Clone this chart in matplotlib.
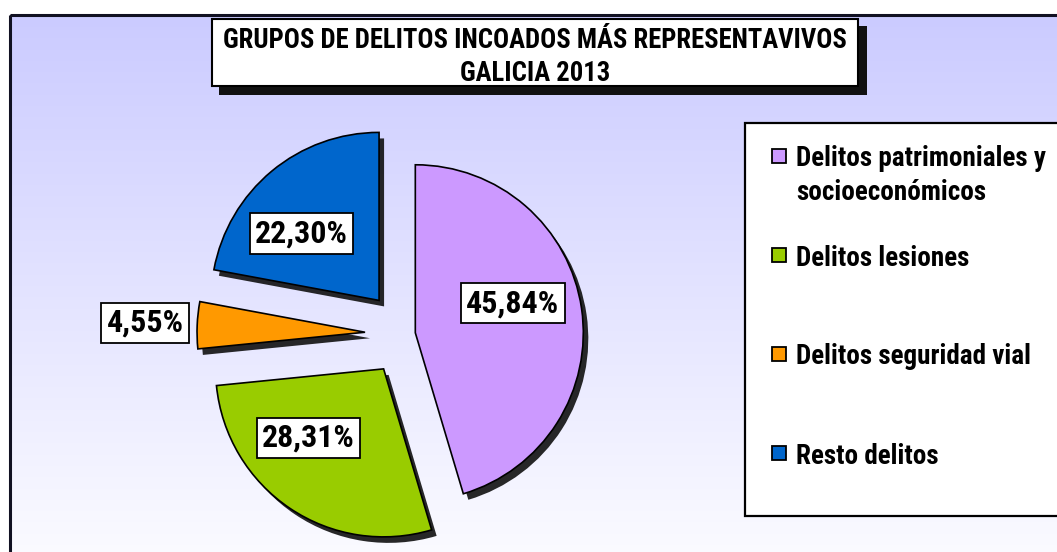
import numpy as np
import matplotlib
matplotlib.use('Agg')
import matplotlib.pyplot as plt
from matplotlib import font_manager
from matplotlib.patches import Rectangle

# Datos del gráfico
categorias = ['Delitos patrimoniales y\nsocioeconómicos', 'Delitos lesiones',
              'Delitos seguridad vial', 'Resto delitos']
valores = [45.84, 28.31, 4.55, 22.30]
etiquetas = ['45,84%', '28,31%', '4,55%', '22,30%']
colores = ['#CC99FF', '#99CC00', '#FF9900', '#0066CC']
titulo = 'GRUPOS DE DELITOS INCOADOS MÁS REPRESENTAVIVOS\nGALICIA 2013'

# Buscar una fuente estrecha (tipo Arial Narrow); si no hay, reducir tamaños
fuentes = font_manager.fontManager.ttflist
nombres = {f.name for f in fuentes}
estrecha = None
for cand in ['Liberation Sans Narrow', 'Arial Narrow', 'Roboto Condensed',
             'Open Sans Condensed', 'Noto Sans Condensed', 'DejaVu Sans Condensed']:
    if cand in nombres:
        estrecha = cand
        break
estirar = 'normal'
if estrecha is None and any(f.name == 'DejaVu Sans' and f.stretch == 'condensed' for f in fuentes):
    estrecha = 'DejaVu Sans'
    estirar = 'condensed'
if estrecha:
    plt.rcParams['font.family'] = [estrecha, 'DejaVu Sans']
    k = 1.0
else:
    plt.rcParams['font.family'] = ['Liberation Sans', 'DejaVu Sans']
    k = 0.82
plt.rcParams['font.stretch'] = estirar

W, H = 1057, 552
fig = plt.figure(figsize=(W / 100, H / 100), dpi=100)
ax = fig.add_axes([0, 0, 1, 1])

# Fondo degradado dentro del marco
grad = np.linspace(0, 1, 256)[:, None, None]
top = np.array([203, 203, 255]) / 255
bot = np.array([251, 251, 255]) / 255
img = top * (1 - grad) + bot * grad
ax.imshow(img, extent=(10, W + 5, H + 5, 15), origin='upper', aspect='auto', zorder=0)
ax.add_patch(Rectangle((10, 15), W, H, fill=False, ec='#111122', lw=2.2, zorder=1))

# Tarta (con sombra)
centro = (407, 334)
radio = 168
explode = [0.05 * radio, 0.25 * radio, 0.25 * radio, 0.26 * radio]
ax.pie(valores, center=(centro[0] + 5, centro[1] + 6), radius=radio, explode=explode,
       startangle=-90, counterclock=True, colors=['#151515'] * 4,
       wedgeprops={'linewidth': 0, 'zorder': 2, 'alpha': 0.92}, frame=True)
cunas, _ = ax.pie(valores, center=centro, radius=radio, explode=explode,
                  startangle=-90, counterclock=True, colors=colores,
                  wedgeprops={'linewidth': 1.2, 'edgecolor': 'black', 'zorder': 3}, frame=True)

# Etiquetas de porcentaje
dist_etq = [0.605, 0.607, 1.31, 0.61]
giro_etq = [-8.7, 13.5, 0.0, -9.5]
for w, txt, d, g in zip(cunas, etiquetas, dist_etq, giro_etq):
    a = np.deg2rad((w.theta1 + w.theta2) / 2 + g)
    x = w.center[0] + d * radio * np.cos(a)
    y = w.center[1] + d * radio * np.sin(a)
    ax.text(x, y, txt, ha='center', va='center', fontsize=23 * k, fontweight='bold', zorder=5,
            bbox=dict(boxstyle='square,pad=0.17', fc='white', ec='black', lw=1.3))

# Título con sombra
ax.add_patch(Rectangle((219, 26), 648, 69, fc='#111111', ec='none', zorder=4))
ax.add_patch(Rectangle((212, 19), 646, 67, fc='white', ec='black', lw=1.5, zorder=5))
ax.text(535, 57, titulo, ha='center', va='center', fontsize=19.2 * k, fontweight='bold',
        linespacing=1.28, zorder=6)

# Leyenda
ax.add_patch(Rectangle((745, 123), 330, 393, fc='white', ec='black', lw=1.6, zorder=5))
for i, (lab, col) in enumerate(zip(categorias, colores)):
    yc = 155.5 + i * 99
    ax.add_patch(Rectangle((772, yc - 7), 14, 14, fc=col, ec='black', lw=1.3, zorder=6))
    ax.text(796, yc - 10, lab, ha='left', va='top', fontsize=19.5 * k, fontweight='bold',
            linespacing=1.3, zorder=6)

ax.set_xlim(0, W)
ax.set_ylim(H, 0)
ax.set_axis_off()

fig.savefig('out.png', dpi=100, facecolor='white')
